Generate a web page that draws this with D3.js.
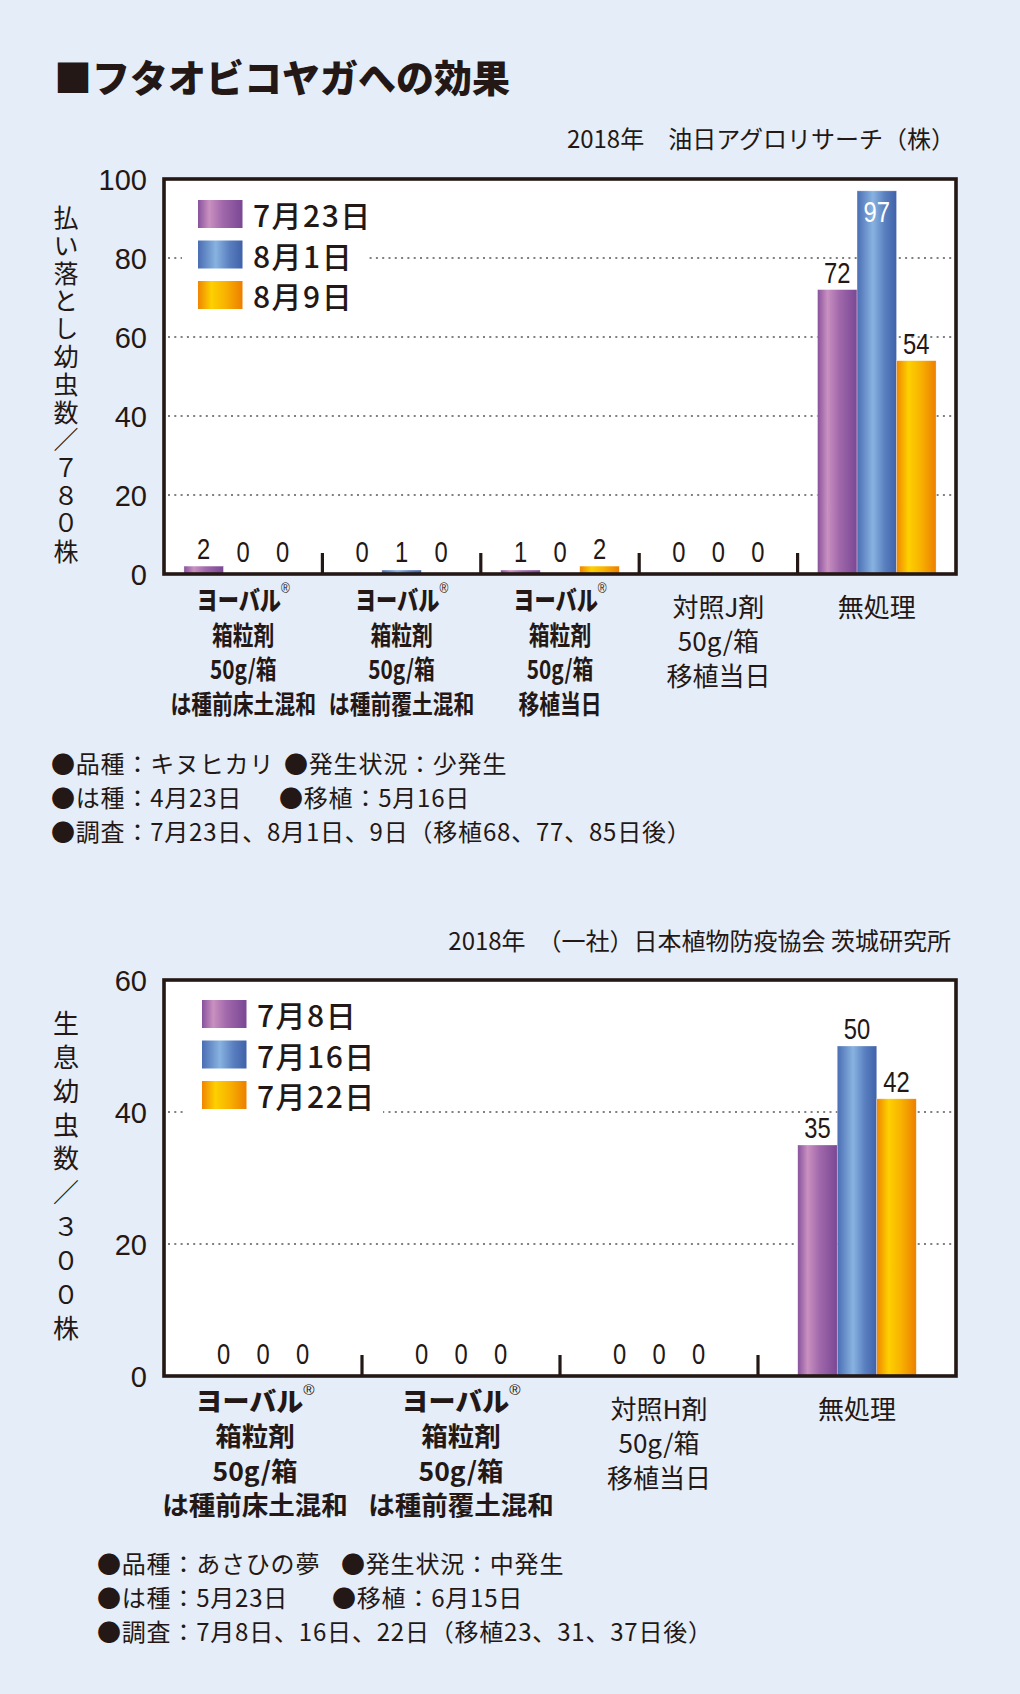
<!DOCTYPE html>
<html><head><meta charset="utf-8">
<script src="https://cdn.jsdelivr.net/npm/d3@7"></script>
<style>
html,body{margin:0;padding:0;background:#e5edf8;}
svg{display:block;}
text{font-family:"Noto Sans CJK JP","Noto Sans",sans-serif;fill:#231815;}
</style></head><body>
<svg id="c" width="1020" height="1694"></svg>
<script>
// ---------- data ----------
const titleText = "■フタオビコヤガへの効果";

const source1 = "2018年　油日アグロリサーチ（株）";
const categories1 = [
  ["ヨーバル®","箱粒剤","50g/箱","は種前床土混和"],
  ["ヨーバル®","箱粒剤","50g/箱","は種前覆土混和"],
  ["ヨーバル®","箱粒剤","50g/箱","移植当日"],
  ["対照J剤","50g/箱","移植当日"],
  ["無処理"]
];
const categoryBold1 = [true,true,true,false,false];
const series1 = ["7月23日","8月1日","8月9日"];
const values1_jul23 = [2,0,1,0,72];
const values1_aug1  = [0,1,0,0,97];
const values1_aug9  = [0,0,2,0,54];
const yTicks1 = [0,20,40,60,80,100];
const yTitle1 = "払い落とし幼虫数／７８０株";
const notes1 = [
  ["●品種：キヌヒカリ","●発生状況：少発生"],
  ["●は種：4月23日","●移植：5月16日"],
  ["●調査：7月23日、8月1日、9日（移植68、77、85日後）"]
];

const source2 = "2018年　（一社）日本植物防疫協会 茨城研究所";
const categories2 = [
  ["ヨーバル®","箱粒剤","50g/箱","は種前床土混和"],
  ["ヨーバル®","箱粒剤","50g/箱","は種前覆土混和"],
  ["対照H剤","50g/箱","移植当日"],
  ["無処理"]
];
const categoryBold2 = [true,true,false,false];
const series2 = ["7月8日","7月16日","7月22日"];
const values2_jul8  = [0,0,0,35];
const values2_jul16 = [0,0,0,50];
const values2_jul22 = [0,0,0,42];
const yTicks2 = [0,20,40,60];
const yTitle2 = "生息幼虫数／３００株";
const notes2 = [
  ["●品種：あさひの夢","●発生状況：中発生"],
  ["●は種：5月23日","●移植：6月15日"],
  ["●調査：7月8日、16日、22日（移植23、31、37日後）"]
];

// ---------- drawing ----------
const INK = "#231815";
const svg = d3.select("#c");
const defs = svg.append("defs");
const grads = [
  ["gPurple", [[0,"#87529d"],[0.25,"#c990c0"],[0.55,"#a169ab"],[1,"#7a4794"]]],
  ["gBlue",   [[0,"#4a6db3"],[0.4,"#88b3e0"],[0.7,"#5a80c0"],[1,"#3f61a9"]]],
  ["gOrange", [[0,"#ef8500"],[0.3,"#fdd000"],[0.6,"#f8b400"],[1,"#ed7f00"]]]
];
grads.forEach(([id, stops]) => {
  const lg = defs.append("linearGradient").attr("id", id).attr("x1",0).attr("x2",1).attr("y1",0).attr("y2",0);
  stops.forEach(([o,c]) => lg.append("stop").attr("offset", o).attr("stop-color", c));
});
const fills = ["url(#gPurple)","url(#gBlue)","url(#gOrange)"];

svg.append("text").attr("x",54).attr("y",75).attr("dominant-baseline","central")
  .style("font-size","38px").style("font-weight",900).text(titleText);

function drawChart(o) {
  const g = svg.append("g");
  const n = o.categories.length;
  const x0 = d3.scaleBand().domain(d3.range(n)).range([o.left, o.right]).padding(0);
  const y = d3.scaleLinear().domain([0, o.yMax]).range([o.bottom, o.top]);
  const barW = 39.5;
  const x1 = d3.scaleBand().domain(o.series).range([0, barW * o.series.length]);
  const off = (x0.bandwidth() - barW * o.series.length) / 2;

  // source line
  g.append("text").attr("x", o.sourceX).attr("y", o.sourceY).attr("text-anchor","end")
    .attr("dominant-baseline","central").style("font-size","24px").text(o.source);

  // plot background
  g.append("rect").attr("x",o.left).attr("y",o.top).attr("width",o.right-o.left)
    .attr("height",o.bottom-o.top).attr("fill","#fff");

  // gridlines
  g.selectAll("line.grid").data(o.yTicks.filter(t => t > 0 && t < o.yMax)).join("line")
    .attr("class","grid").attr("x1",o.left+4).attr("x2",o.right-2)
    .attr("y1",d=>y(d)).attr("y2",d=>y(d))
    .attr("stroke","#808080").attr("stroke-width",2).attr("stroke-dasharray","2 4.3");

  // legend
  g.append("rect").attr("x",o.legX-16).attr("y",o.legY-8).attr("width",o.legBgW)
    .attr("height",o.series.length*40.5+10).attr("fill","#fff");
  o.series.forEach((s,i) => {
    g.append("rect").attr("x",o.legX).attr("y",o.legY+i*40.5).attr("width",44.5).attr("height",28)
      .attr("fill",fills[i]);
    g.append("text").attr("x",o.legX+55).attr("y",o.legY+i*40.5+14).attr("dominant-baseline","central")
      .style("font-size","30px").style("font-weight",500).style("letter-spacing","1.5px").text(s);
  });

  // bars
  o.values.forEach((vals, si) => {
    g.selectAll(null).data(vals).join("rect")
      .attr("x",(d,i)=>x0(i)+off+x1(o.series[si]))
      .attr("y",d=>y(d)).attr("width",x1.bandwidth()).attr("height",d=>y(0)-y(d))
      .attr("fill",fills[si]).attr("stroke","#ffffff").attr("stroke-opacity",0.5).attr("stroke-width",0.6);
  });

  // value labels
  const isInside = d => y(d) - 7 - 22 < o.top + 4;
  o.values.forEach((vals, si) => {
    g.selectAll(null).data(vals).join("text")
      .attr("transform",(d,i)=>{
        const cx = x0(i)+off+x1(o.series[si])+x1.bandwidth()/2;
        const yy = isInside(d) ? y(d)+31 : Math.min(y(d)-7, y(0)-12);
        return `translate(${cx},${yy}) scale(0.82,1)`;
      })
      .attr("text-anchor","middle")
      .style("font-family","'Liberation Sans',Arial,sans-serif").style("font-size","29px")
      .style("fill",d => isInside(d) ? "#ffffff" : INK)
      .text(d=>d);
  });

  // group separator ticks
  g.selectAll("line.sep").data(d3.range(1,n)).join("line")
    .attr("x1",i=>x0(i)).attr("x2",i=>x0(i)).attr("y1",o.bottom).attr("y2",o.bottom-21)
    .attr("stroke",INK).attr("stroke-width",3.2);

  // frame
  g.append("rect").attr("x",o.left).attr("y",o.top).attr("width",o.right-o.left)
    .attr("height",o.bottom-o.top).attr("fill","none").attr("stroke",INK).attr("stroke-width",3.6);

  // y axis
  const ax = g.append("g").attr("transform",`translate(${o.left},0)`)
    .call(d3.axisLeft(y).tickValues(o.yTicks).tickSize(0).tickPadding(17));
  ax.select(".domain").remove();
  ax.selectAll("text").style("font-family","'Liberation Sans',Arial,sans-serif")
    .style("font-size","29px").style("fill",INK).attr("dy","0.36em");

  // y title (vertical writing)
  g.append("text").attr("x",66).attr("y",o.yTitleTop)
    .style("writing-mode","vertical-rl").style("text-orientation","upright")
    .style("font-size",o.yTitleSize+"px").style("letter-spacing",(o.yTitlePitch-o.yTitleSize)+"px")
    .text(o.yTitle);

  // category labels
  o.categories.forEach((lines,i) => {
    const cx = x0(i) + x0.bandwidth()/2 + (o.labelShift[i] || 0);
    const bold = o.bold[i];
    lines.forEach((ln,j) => {
      const yy = bold ? (j===0 ? o.bottom + 23.5 : o.bottom + 25 + j*34.5) : o.bottom + 31 + j*34.5;
      const t = g.append("text").attr("text-anchor","middle").attr("dominant-baseline","central")
        .attr("transform", bold ? `translate(${cx},${yy}) scale(${o.squeeze},1)` : `translate(${cx},${yy})`)
        .style("font-size", bold ? (j===0 ? "26.5px" : "26px") : "26px")
        .style("font-weight", bold ? (j===0 ? 900 : 700) : 400);
      if (ln.endsWith("®")) {
        t.append("tspan").text(ln.slice(0,-1));
        t.append("tspan").attr("dy",-10).style("font-family","'Liberation Sans',Arial,sans-serif")
          .style("font-size","15px").style("font-weight",400).text("®");
      } else t.text(ln);
    });
  });

  // notes
  o.notes.forEach((parts,k) => {
    const t = g.append("text").attr("y",o.notesY+k*34).attr("dominant-baseline","central")
      .style("font-size","24px").style("letter-spacing","0.8px");
    parts.forEach((p,m) => {
      t.append("tspan").attr("x", m===0 ? o.notesX : o.notes2X[k]).text(p);
    });
  });
}

drawChart({
  left:164, right:956, top:179, bottom:574, yMax:100, yTicks:yTicks1,
  categories:categories1, bold:categoryBold1, series:series1, squeeze:0.8, labelShift:[0,0,0,0,0],
  values:[values1_jul23, values1_aug1, values1_aug9],
  source:source1, sourceX:955, sourceY:137,
  legX:198, legY:200, legBgW:186,
  yTitle:yTitle1, yTitleSize:25, yTitleTop:205, yTitlePitch:27.8,
  notes:notes1, notesX:51, notes2X:[284,279], notesY:762
});

drawChart({
  left:164, right:956, top:980, bottom:1376, yMax:60, yTicks:yTicks2,
  categories:categories2, bold:categoryBold2, series:series2, squeeze:1.02, labelShift:[-8,0,0,0],
  values:[values2_jul8, values2_jul16, values2_jul22],
  source:source2, sourceX:951, sourceY:939,
  legX:202, legY:1000, legBgW:197,
  yTitle:yTitle2, yTitleSize:26, yTitleTop:1010, yTitlePitch:33.9,
  notes:notes2, notesX:97, notes2X:[341,332], notesY:1562
});
</script>
</body></html>
